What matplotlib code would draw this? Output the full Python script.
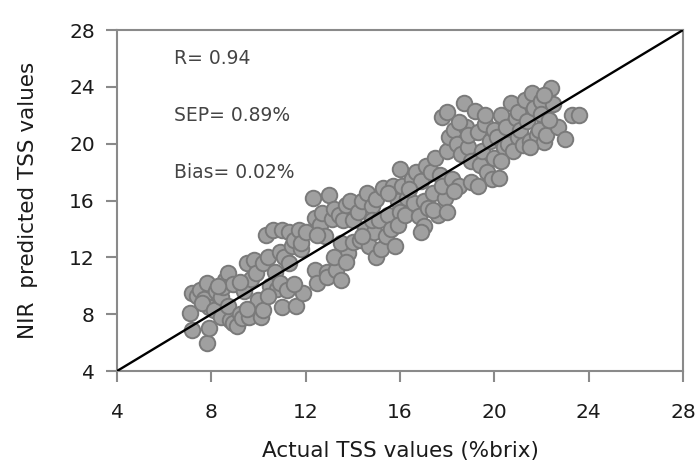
import matplotlib
matplotlib.use('Agg')

import matplotlib.pyplot as plt

# actual vs predicted TSS (%brix)
actual = [
    7.1, 7.2, 7.2, 7.4, 7.5, 7.7, 7.8, 7.9, 7.9, 7.8, 7.6,
    8.1, 8.2, 8.4, 8.4, 8.6, 8.7, 8.8, 8.9, 8.7, 8.5, 8.9, 8.3,
    9.1, 9.2, 9.3, 9.4, 9.5, 9.6, 9.7, 9.8, 9.9, 9.9, 10.0, 9.5, 9.2,
    10.1, 10.2, 10.2, 10.3, 10.4, 10.5, 10.6, 10.7, 10.8, 10.9, 11.0, 11.0, 10.9, 10.4,
    11.1, 11.2, 11.3, 11.4, 11.5, 11.6, 11.7, 11.8, 11.9, 11.5, 11.3, 11.8, 12.0,
    12.3, 12.4, 12.4, 12.5, 12.6, 12.7, 12.8, 12.9, 13.0, 13.1, 13.2, 12.5, 12.9,
    13.3, 13.4, 13.5, 13.6, 13.7, 13.8, 13.9, 14.0, 13.5, 13.2, 13.7, 14.0,
    14.2, 14.3, 14.4, 14.5, 14.6, 14.7, 14.8, 14.9, 15.0, 15.0, 14.4, 14.8,
    15.1, 15.2, 15.3, 15.4, 15.5, 15.6, 15.7, 15.8, 15.9, 16.0, 16.0, 15.5, 15.9,
    16.1, 16.2, 16.3, 16.5, 16.6, 16.7, 16.8, 16.9, 17.0, 17.0, 16.4, 16.9,
    17.1, 17.2, 17.3, 17.4, 17.5, 17.6, 17.7, 17.8, 17.9, 18.0, 18.0, 17.4, 17.8, 18.0,
    18.1, 18.2, 18.3, 18.4, 18.5, 18.6, 18.7, 18.8, 18.9, 19.0, 18.5, 18.3, 18.9, 19.0,
    19.2, 19.3, 19.4, 19.5, 19.6, 19.7, 19.8, 19.9, 20.0, 20.0, 19.3, 19.6,
    20.1, 20.2, 20.3, 20.4, 20.5, 20.6, 20.7, 20.8, 20.9, 21.0, 20.3, 21.0,
    21.1, 21.2, 21.3, 21.4, 21.5, 21.6, 21.7, 21.8, 21.9, 22.0, 22.1, 21.5, 22.0,
    22.2, 22.4, 22.5, 22.7, 23.0, 23.3, 23.6, 22.3, 22.1,
]
predicted = [
    8.1, 6.9, 9.5, 9.3, 9.7, 9.1, 6.0, 7.0, 8.5, 10.2, 8.8,
    8.3, 9.6, 7.8, 9.2, 10.4, 10.9, 7.6, 7.4, 8.6, 9.9, 10.1, 10.0,
    7.2, 8.0, 7.7, 9.6, 11.6, 7.8, 10.5, 11.8, 8.5, 10.9, 9.0, 8.4, 10.3,
    7.8, 8.3, 11.6, 13.6, 12.0, 10.0, 13.9, 11.0, 9.8, 12.4, 8.5, 13.9, 10.2, 9.3,
    12.0, 9.7, 13.8, 12.8, 13.2, 8.6, 13.9, 12.6, 9.5, 10.1, 11.6, 13.0, 13.8,
    16.2, 14.8, 11.1, 10.2, 14.3, 15.1, 13.5, 11.0, 16.4, 14.7, 15.4, 13.6, 10.6,
    11.1, 15.0, 10.4, 14.6, 15.7, 12.3, 16.0, 14.6, 13.0, 12.0, 11.7, 13.1,
    15.2, 13.2, 16.0, 14.0, 16.5, 12.8, 15.6, 13.8, 12.0, 16.1, 13.5, 14.6,
    14.6, 12.6, 16.9, 13.5, 15.0, 14.0, 17.0, 12.8, 16.0, 18.2, 15.2, 16.5, 14.3,
    17.0, 15.0, 16.2, 17.5, 15.8, 18.0, 14.9, 17.4, 14.2, 16.0, 16.8, 13.8,
    18.4, 15.5, 18.0, 16.5, 19.0, 15.0, 17.8, 21.9, 16.2, 19.5, 22.2, 15.3, 17.0, 15.2,
    20.5, 17.5, 21.0, 20.0, 17.0, 19.3, 22.9, 21.2, 19.8, 17.3, 21.5, 16.7, 20.6, 18.8,
    22.3, 20.8, 18.5, 19.5, 21.4, 18.0, 20.2, 17.5, 21.0, 19.0, 17.0, 22.0,
    20.5, 17.6, 22.0, 19.8, 21.2, 20.0, 22.9, 19.5, 21.8, 20.5, 18.8, 22.2,
    21.0, 19.9, 23.1, 21.6, 20.2, 23.6, 22.5, 20.6, 21.0, 23.0, 20.1, 19.8, 22.1,
    20.6, 23.9, 22.8, 21.2, 20.3, 22.0, 22.0, 21.7, 23.4,
]

ticks = [4, 8, 12, 16, 20, 24, 28]
stats = ["R= 0.94", "SEP= 0.89%", "Bias= 0.02%"]
stat_y = [26, 22, 18]

fig = plt.figure(figsize=(6.99, 4.70), dpi=100)
ax = fig.add_axes([0.1674, 0.2106, 0.8096, 0.7254])

ax.scatter(actual, predicted, s=125, c="#a0a0a0", edgecolors="#7a7a7a",
           linewidths=1.4, zorder=2)
ax.plot([4, 28], [4, 28], color="black", lw=1.7, zorder=3)

ax.set_xlim(4, 28)
ax.set_ylim(4, 28)
ax.set_xticks(ticks)
ax.set_yticks(ticks)

for s in ax.spines.values():
    s.set_color("#8a8a8a")
    s.set_linewidth(1.5)

ax.tick_params(axis="x", direction="out", length=8, width=1.5, color="#8a8a8a",
               pad=15, labelsize=14.5, labelcolor="#1a1a1a")
ax.tick_params(axis="y", direction="out", length=8, width=1.5, color="#8a8a8a",
               pad=8, labelsize=14.5, labelcolor="#1a1a1a")

for txt, y in zip(stats, stat_y):
    ax.text(6.4, y, txt, fontsize=13.5, color="#444444", va="center", ha="left")

ax.set_xlabel("Actual TSS values (%brix)", fontsize=15.5, color="#1a1a1a", labelpad=14)
ax.set_ylabel("NIR  predicted TSS values", fontsize=15.5, color="#1a1a1a", labelpad=22)

fig.savefig("out.png", dpi=100)
plt.close(fig)
